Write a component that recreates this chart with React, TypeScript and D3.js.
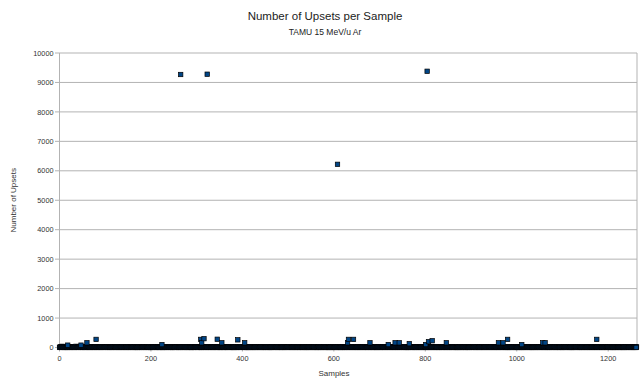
import React from "react";
import * as d3 from "d3";

// per-sample baseline counts, one digit per sample (digit x 10 upsets)
const baselineRows = [
  "1021304211 0201320102 3102120311 0220134102 1102312013 2011202103 1210320110 2132011023 1021302110 3201231021",
  "2103120213 0112031022 1301210230 1120213012 0312102201 3021102312 0120310212 0031201123 0210312012 1302101230",
  "0213021120 3102130210 1203120012 3021031210 2130120031 2102103121 0201302112 0310212013 1020312100 2130210312",
  "1203102130 2011203121 0320120213 1021302013 1202103120 1302011230 2103102012 3120130210 2012031201 3021120312",
  "2130210120 3102012031 2013021031 0212031201 3021203101 2031202130 1020312013 1202130102 3120130210 2103120123",
  "0312012302 1031201302 1201302130 2103120210 3012031201 2301203120 1302102301 2031202130 1203120130 2013021302",
  "1203120130 2102301203 1203021302 1301203120 2130120312 0130210312 0213021031 2012031201 3021203102 1302012031",
  "2013021302 1031201230 1203120213 0210312013 0213021302 1203120130 2012031203 1203120130 2103120213 0120312013",
  "3021031201 2031202130 1203120130 2103120213 0213021031 2013021302 1203120130 2012031201 3021203102 1302012031",
  "1203120213 0120312013 0213021302 1031201230 1203120213 0210312013 0213021302 1203120130 2012031203 1203120130",
  "2103120130 2012031201 3021203120 1302012031 2013021031 2031202130 1203120130 2103120213 0213021031 2013021302",
  "0213021302 1203120130 2012031203 1203120130 2103120213 0120312013 0213021302 1031201230 1203120213 0210312013",
  "1203120130 2012031201 3021203102 1302012031 2031202130 1203120130 212",
];

// samples standing out of the baseline: [sample, upsets]
const spikes: [number, number][] = [
  [18, 80], [47, 80], [60, 160], [80, 275], [224, 100], [265, 9270],
  [309, 275], [311, 160], [316, 300], [323, 9280], [345, 280], [355, 160],
  [390, 260], [405, 160], [608, 6220], [630, 160], [632, 275], [643, 275],
  [679, 160], [719, 100], [734, 160], [743, 160], [765, 130], [801, 100],
  [804, 9380], [807, 200], [815, 230], [846, 160], [960, 160], [970, 160],
  [980, 275], [1011, 100], [1057, 160], [1062, 160], [1175, 275], [1261, 0],
];

const yTicks = [0, 1000, 2000, 3000, 4000, 5000, 6000, 7000, 8000, 9000, 10000];
const xTicks = [0, 200, 400, 600, 800, 1000, 1200];

const width = 641;
const height = 379;
const font = "'Liberation Sans', Arial, sans-serif";

export default function App() {
  const baseline = baselineRows.join("").replace(/ /g, "").split("").map((c) => +c * 10);

  const x = d3.scaleLinear().domain([0, 1263]).range([59.5, 637]);
  const y = d3.scaleLinear().domain([0, 10000]).range([347.5, 53]);

  const ms = 4.4; // marker size

  return (
    <div style={{ position: "absolute", left: 0, top: 0 }}>
      <svg width={width} height={height} style={{ display: "block", background: "#fff" }}>
        <text x={325} y={20} textAnchor="middle" fontFamily={font} fontSize={11.5} fill="#222">
          Number of Upsets per Sample
        </text>
        <text x={325} y={34.5} textAnchor="middle" fontFamily={font} fontSize={8.5} fill="#222">
          TAMU 15 MeV/u Ar
        </text>

        {/* grid */}
        {yTicks.map((t) => (
          <g key={t}>
            <line x1={55} x2={x(1263)} y1={y(t)} y2={y(t)} stroke="#b3b3b3" strokeWidth={1} />
            <text x={53.5} y={y(t) + 2.6} textAnchor="end" fontFamily={font} fontSize={7.3} fill="#333">
              {t}
            </text>
          </g>
        ))}
        <line x1={x(0)} x2={x(0)} y1={y(10000)} y2={y(0)} stroke="#b3b3b3" />
        <line x1={x(1263)} x2={x(1263)} y1={y(10000)} y2={y(0)} stroke="#b3b3b3" />
        {xTicks.map((t) => (
          <g key={t}>
            <line x1={x(t)} x2={x(t)} y1={y(0)} y2={y(0) + 4} stroke="#b3b3b3" />
            <text x={x(t)} y={361} textAnchor="middle" fontFamily={font} fontSize={7.3} fill="#333">
              {t}
            </text>
          </g>
        ))}

        <text
          transform={`translate(15.5,${(y(0) + y(10000)) / 2}) rotate(-90)`}
          textAnchor="middle"
          fontFamily={font}
          fontSize={8}
          fill="#333"
        >
          Number of Upsets
        </text>
        <text x={334} y={376} textAnchor="middle" fontFamily={font} fontSize={8} fill="#333">
          Samples
        </text>

        {/* points */}
        <g stroke="#000" strokeWidth={0.7} fill="#004586">
          {baseline.map((v, i) => (
            <rect key={"b" + i} x={x(i) - ms / 2} y={y(v) - ms / 2} width={ms} height={ms} />
          ))}
          {spikes.map(([s, v]) => (
            <rect key={"s" + s} x={x(s) - ms / 2} y={y(v) - ms / 2} width={ms} height={ms} />
          ))}
        </g>
      </svg>
    </div>
  );
}
